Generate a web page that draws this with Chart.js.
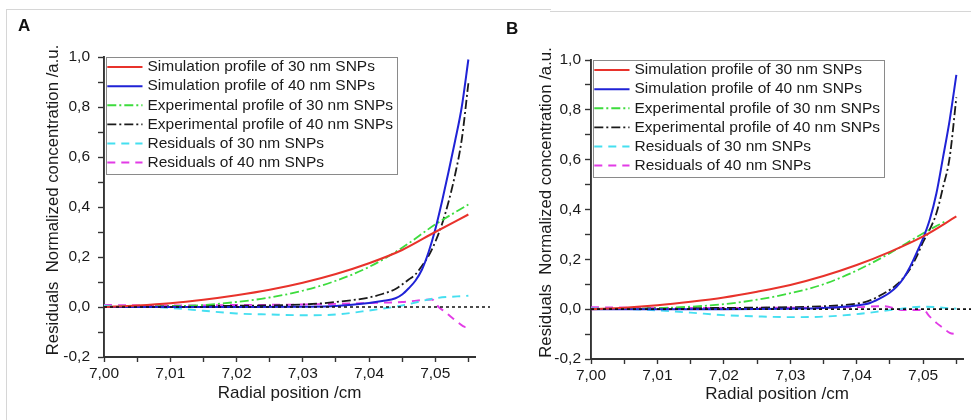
<!DOCTYPE html>
<html>
<head>
<meta charset="utf-8">
<script src="https://cdn.jsdelivr.net/npm/chart.js@4.4.0/dist/chart.umd.min.js"></script>
<style>
	body { margin: 0; background: #fff; width: 971px; height: 420px; position: relative; overflow: hidden; font-family: 'Liberation Sans', Arial, sans-serif; }
	.panel { position: absolute; top: 0; height: 420px; }
	#panelA { left: 0; width: 490px; }
	#panelB { left: 490px; width: 481px; }
	canvas { position: absolute; left: 0; top: 0; }
	.tag { position: absolute; font-weight: bold; font-size: 17px; color: #111; line-height: 20px; }
	.frame { position: absolute; border: 0 solid #d6d6d6; }
</style>
</head>
<body>
<div class="frame" style="left:6px; top:9px; width:544px; height:411px; border-top-width:1px; border-left-width:1px;"></div>
<div class="frame" style="left:550px; top:11px; width:421px; border-top-width:1px;"></div>
<div id="panelA" class="panel">
	<canvas id="chartA" width="490" height="420"></canvas>
	<div class="tag" style="left:18px; top:16px;">A</div>
</div>
<div id="panelB" class="panel">
	<canvas id="chartB" width="481" height="420"></canvas>
	<div class="tag" style="left:16px; top:19px;">B</div>
</div>
<script>
// radial positions (cm)
var xCoarse = [7.000, 7.005, 7.010, 7.015, 7.020, 7.025, 7.030, 7.035, 7.040, 7.045, 7.050, 7.055];
var xSteep = [7.000, 7.010, 7.020, 7.030, 7.035, 7.040, 7.042, 7.044, 7.045, 7.046, 7.047, 7.048, 7.049, 7.050, 7.051, 7.052, 7.053, 7.054, 7.055];
var xZero = [7.000, 7.0585];
var yZero = [0, 0];

var labels = [
	'Simulation profile of 30 nm SNPs',
	'Simulation profile of 40 nm SNPs',
	'Experimental profile of 30 nm SNPs',
	'Experimental profile of 40 nm SNPs',
	'Residuals of 30 nm SNPs',
	'Residuals of 40 nm SNPs'
];

// panel A
var simA30 = [0.000, 0.006, 0.015, 0.029, 0.047, 0.069, 0.097, 0.132, 0.175, 0.228, 0.300, 0.370];
var expA30 = [0.000, 0.000, 0.003, 0.008, 0.020, 0.038, 0.065, 0.105, 0.160, 0.237, 0.330, 0.410];
var simA40 = [0.000, 0.000, 0.000, 0.001, 0.004, 0.016, 0.024, 0.035, 0.050, 0.075, 0.105, 0.150, 0.220, 0.310, 0.420, 0.540, 0.665, 0.800, 0.990];
var expA40 = [0.000, 0.003, 0.005, 0.010, 0.020, 0.038, 0.052, 0.072, 0.090, 0.110, 0.130, 0.165, 0.205, 0.260, 0.330, 0.420, 0.530, 0.670, 0.895];
var resA30 = [0.005, 0.002, -0.004, -0.015, -0.026, -0.030, -0.033, -0.030, -0.014, 0.006, 0.035, 0.045];
var xResA40 = [7.000, 7.010, 7.020, 7.030, 7.040, 7.045, 7.0495, 7.0505, 7.0515, 7.0525, 7.0535, 7.0545, 7.055];
var resA40 = [0.008, 0.006, 0.008, 0.010, 0.016, 0.020, 0.030, 0.000, -0.020, -0.042, -0.063, -0.080, -0.080];

// panel B
var simB30 = [0.000, 0.006, 0.016, 0.030, 0.047, 0.070, 0.097, 0.133, 0.177, 0.230, 0.292, 0.372];
var xExpB30 = [7.000, 7.005, 7.010, 7.015, 7.020, 7.025, 7.030, 7.035, 7.040, 7.045, 7.050, 7.0533];
var expB30 = [0.000, 0.000, 0.004, 0.010, 0.020, 0.038, 0.064, 0.100, 0.155, 0.225, 0.305, 0.352];
var simB40 = [0.000, 0.000, 0.000, 0.002, 0.005, 0.015, 0.025, 0.050, 0.067, 0.090, 0.122, 0.168, 0.225, 0.285, 0.360, 0.465, 0.610, 0.760, 0.940];
var expB40 = [0.000, 0.003, 0.005, 0.008, 0.012, 0.022, 0.035, 0.062, 0.078, 0.098, 0.125, 0.160, 0.210, 0.270, 0.320, 0.385, 0.490, 0.610, 0.850];
var resB30 = [0.003, 0.001, -0.005, -0.014, -0.024, -0.029, -0.032, -0.030, -0.020, -0.004, 0.010, 0.002];
var xResB40 = [7.000, 7.010, 7.020, 7.030, 7.040, 7.044, 7.047, 7.050, 7.051, 7.052, 7.053, 7.054, 7.055];
var resB40 = [0.008, 0.005, 0.005, 0.006, 0.008, 0.012, -0.004, -0.003, -0.030, -0.055, -0.075, -0.095, -0.100];

var FONT = "'Liberation Sans', Arial, sans-serif";

function pts(xs, ys) {
	return xs.map(function (x, i) {
		return { x: x, y: ys[i] };
	});
}

function comma(v, digits) {
	var s = (Math.round(v * 1000) / 1000).toFixed(digits);
	if (Number(s) === 0) s = (0).toFixed(digits);
	return s.replace('.', ',');
}

// legend drawn inside the plot, framed like the original
var boxLegend = {
	id: 'boxLegend',
	afterDraw: function (chart) {
		var ctx = chart.ctx;
		var area = chart.chartArea;
		var items = chart.data.datasets.filter(function (ds) { return ds.label; });
		var rowH = 19.1;
		ctx.save();
		ctx.font = '15.5px ' + FONT;
		var textX = area.left + 43.5;
		var widest = Math.max.apply(null, items.map(function (ds) { return ctx.measureText(ds.label).width; }));
		var boxL = area.left + 1.5;
		var boxR = textX + widest + 3.5;
		var boxB = area.top + 0.5 + items.length * rowH + 1.5;
		ctx.strokeStyle = '#8a8a8a';
		ctx.lineWidth = 1;
		ctx.strokeRect(Math.round(boxL) + 0.5, Math.round(area.top) + 0.5, Math.round(boxR - boxL), Math.round(boxB - area.top));
		items.forEach(function (ds, i) {
			var y = area.top + 0.5 + (i + 0.5) * rowH;
			ctx.setLineDash(ds.borderDash || []);
			ctx.strokeStyle = ds.borderColor;
			ctx.lineWidth = ds.borderWidth;
			ctx.beginPath();
			ctx.moveTo(area.left + 3.3, y);
			ctx.lineTo(area.left + 38.5, y);
			ctx.stroke();
			ctx.setLineDash([]);
			ctx.fillStyle = '#1a1a1a';
			ctx.textBaseline = 'middle';
			ctx.fillText(ds.label, textX, y);
		});
		ctx.restore();
	}
};

function make_chart(id, s, box) {
	var ctx = document.getElementById(id).getContext('2d');
	var axisColor = '#333';

	function line(label, data, color, width, dash) {
		return {
			label: label,
			data: data,
			borderColor: color,
			borderWidth: width,
			borderDash: dash,
			pointRadius: 0,
			fill: false,
			cubicInterpolationMode: 'monotone'
		};
	}

	var zero = line('', pts(xZero, yZero), '#111', 1.7, [3, 3]);
	zero.clip = false;
	zero.order = -1;

	return new Chart(ctx, {
		type: 'line',
		data: {
			datasets: [
				line(labels[0], s.sim30, '#e8322b', 2, []),
				line(labels[1], s.sim40, '#1f22d6', 2, []),
				line(labels[2], s.exp30, '#3ddc3d', 1.8, [9, 3, 2, 3]),
				line(labels[3], s.exp40, '#1a1a1a', 1.8, [9, 3, 2, 3]),
				line(labels[4], s.res30, '#45dff0', 1.9, [8, 6]),
				line(labels[5], s.res40, '#e23be6', 1.9, [8, 6]),
				zero
			]
		},
		plugins: [boxLegend],
		options: {
			responsive: false,
			animation: false,
			layout: {
				padding: { left: 0, top: box.top, right: box.right, bottom: 10 }
			},
			plugins: {
				legend: { display: false },
				tooltip: { enabled: false }
			},
			scales: {
				x: {
					type: 'linear',
					bounds: 'data',
					min: 7.0,
					max: 7.056,
					afterFit: function (scale) { scale.height = box.xHeight; },
					border: { display: true, color: axisColor, width: 1.9 },
					grid: {
						drawOnChartArea: false,
						tickLength: 5,
						tickWidth: 1.4,
						tickColor: function (c) {
							var v = Math.round(c.tick.value * 1000);
							return v % 5 === 0 ? axisColor : 'rgba(0,0,0,0)';
						}
					},
					ticks: {
						stepSize: 0.005,
						autoSkip: false,
						maxRotation: 0,
						padding: 2,
						color: '#1a1a1a',
						font: { family: FONT, size: 15.5 },
						callback: function (v) {
							return Math.round(v * 1000) % 10 === 0 ? comma(v, 2) : '';
						}
					},
					title: {
						display: true,
						text: 'Radial position /cm',
						color: '#1a1a1a',
						font: { family: FONT, size: 17 },
						padding: { top: 0, bottom: box.xTitlePad }
					}
				},
				y: {
					bounds: 'data',
					min: -0.2,
					max: 1.0,
					afterFit: function (scale) { scale.width = box.yWidth; },
					border: { display: true, color: axisColor, width: 1.9 },
					grid: {
						drawOnChartArea: false,
						tickLength: 6,
						tickWidth: 1.4,
						tickColor: axisColor
					},
					ticks: {
						stepSize: 0.1,
						autoSkip: false,
						padding: box.yTickPad,
						color: '#1a1a1a',
						font: { family: FONT, size: 15.5 },
						callback: function (v) {
							return Math.round(v * 10) % 2 === 0 ? comma(v, 1) : '';
						}
					},
					title: {
						display: true,
						text: '   Residuals  Normalized concentration /a.u.',
						color: '#1a1a1a',
						font: { family: FONT, size: 16.8 },
						padding: { top: box.yTitlePad, bottom: 0 }
					}
				}
			}
		}
	});
}

window.onload = function () {
	make_chart('chartA', {
		sim30: pts(xCoarse, simA30),
		sim40: pts(xSteep, simA40),
		exp30: pts(xCoarse, expA30),
		exp40: pts(xSteep, expA40),
		res30: pts(xCoarse, resA30),
		res40: pts(xResA40, resA40)
	}, { top: 57, right: 15, yWidth: 104, xHeight: 53, yTitlePad: 43, xTitlePad: 6, yTickPad: 8 });

	make_chart('chartB', {
		sim30: pts(xCoarse, simB30),
		sim40: pts(xSteep, simB40),
		exp30: pts(xExpB30, expB30),
		exp40: pts(xSteep, expB40),
		res30: pts(xCoarse, resB30),
		res40: pts(xResB40, resB40)
	}, { top: 60, right: 8, yWidth: 101, xHeight: 51, yTitlePad: 46, xTitlePad: 5, yTickPad: 4 });
};
</script>
</body>
</html>
